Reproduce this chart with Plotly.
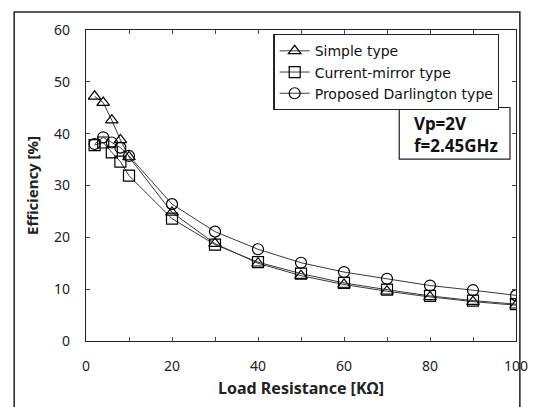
import plotly.graph_objects as go

x_vals = [2, 4, 6, 8, 10, 20, 30, 40, 50, 60, 70, 80, 90, 100]
simple = [47.2, 46.0, 42.6, 38.8, 35.5, 24.8, 18.8, 15.0, 12.6, 10.9, 9.6, 8.5, 7.6, 6.9]
mirror = [37.8, 38.3, 36.4, 34.6, 31.9, 23.6, 18.6, 15.2, 13.0, 11.2, 9.9, 8.7, 7.8, 7.1]
darlington = [38.0, 39.3, 38.3, 37.3, 35.7, 26.4, 21.1, 17.7, 15.1, 13.3, 12.0, 10.7, 9.8, 8.8]

series_names = ["Simple type", "Current-mirror type", "Proposed Darlington type"]
x_ticks = [0, 10, 20, 30, 40, 50, 60, 70, 80, 90, 100]
x_ticktext = ["0", "", "20", "", "40", "", "60", "", "80", "", "100"]
y_ticks = [0, 10, 20, 30, 40, 50, 60]

FONT = "Noto Sans"
fig = go.Figure()
symbols = ["triangle-up-open", "square-open", "circle-open"]
for name, ys, sym in zip(series_names, [simple, mirror, darlington], symbols):
    fig.add_trace(go.Scatter(
        x=x_vals, y=ys, name=name, mode="lines+markers",
        line=dict(color="#3a3a3a", width=1),
        marker=dict(symbol=sym, size=11, color="black", line=dict(color="black", width=1.2)),
    ))

axis_common = dict(
    showline=True, linecolor="#222", linewidth=1.3, mirror="allticks",
    ticks="inside", ticklen=4, tickcolor="#444", tickwidth=1,
    showgrid=False, zeroline=False,
    tickfont=dict(family=FONT, size=14, color="#222"),
)
fig.update_xaxes(range=[0, 100], tickmode="array", tickvals=x_ticks, ticktext=x_ticktext,
                 ticklabelstandoff=12,
                 title=dict(text="<b>Load Resistance [KΩ]</b>", font=dict(family=FONT, size=16, color="#222"), standoff=8),
                 **axis_common)
fig.update_yaxes(range=[0, 60], tickmode="array", tickvals=y_ticks,
                 title=dict(text="<b>Efficiency [%]</b>", font=dict(family=FONT, size=15, color="#222"), standoff=11),
                 ticklabelstandoff=12,
                 **axis_common)

# outer frame
fig.add_shape(type="rect", xref="paper", yref="paper", x0=-0.167, x1=1.009, y0=-0.3, y1=1.0575,
              line=dict(color="#222", width=1.5), fillcolor="rgba(0,0,0,0)", layer="below")

# condition box
fig.add_shape(type="rect", xref="paper", yref="paper", x0=0.7285, x1=0.986, y0=0.5847, y1=0.7508,
              line=dict(color="#222", width=1.2), fillcolor="white", layer="above")
fig.add_annotation(xref="paper", yref="paper", x=0.759, y=0.6645, xanchor="left", yanchor="middle",
                   text="<b>Vp=2V</b><br><b>f=2.45GHz</b>", showarrow=False, align="left",
                   font=dict(family=FONT, size=17, color="#111"))

fig.update_layout(
    width=532, height=399,
    margin=dict(l=78, r=23, t=20, b=66),
    paper_bgcolor="white", plot_bgcolor="white",
    font=dict(family=FONT, color="#222"),
    legend=dict(x=0.436, y=0.987, xanchor="left", yanchor="top",
                bordercolor="#222", borderwidth=1.2, bgcolor="white",
                font=dict(family="DejaVu Sans", size=14, color="#111"),
                itemwidth=30, tracegroupgap=0),
    showlegend=True,
)

fig.write_html("out.html")
